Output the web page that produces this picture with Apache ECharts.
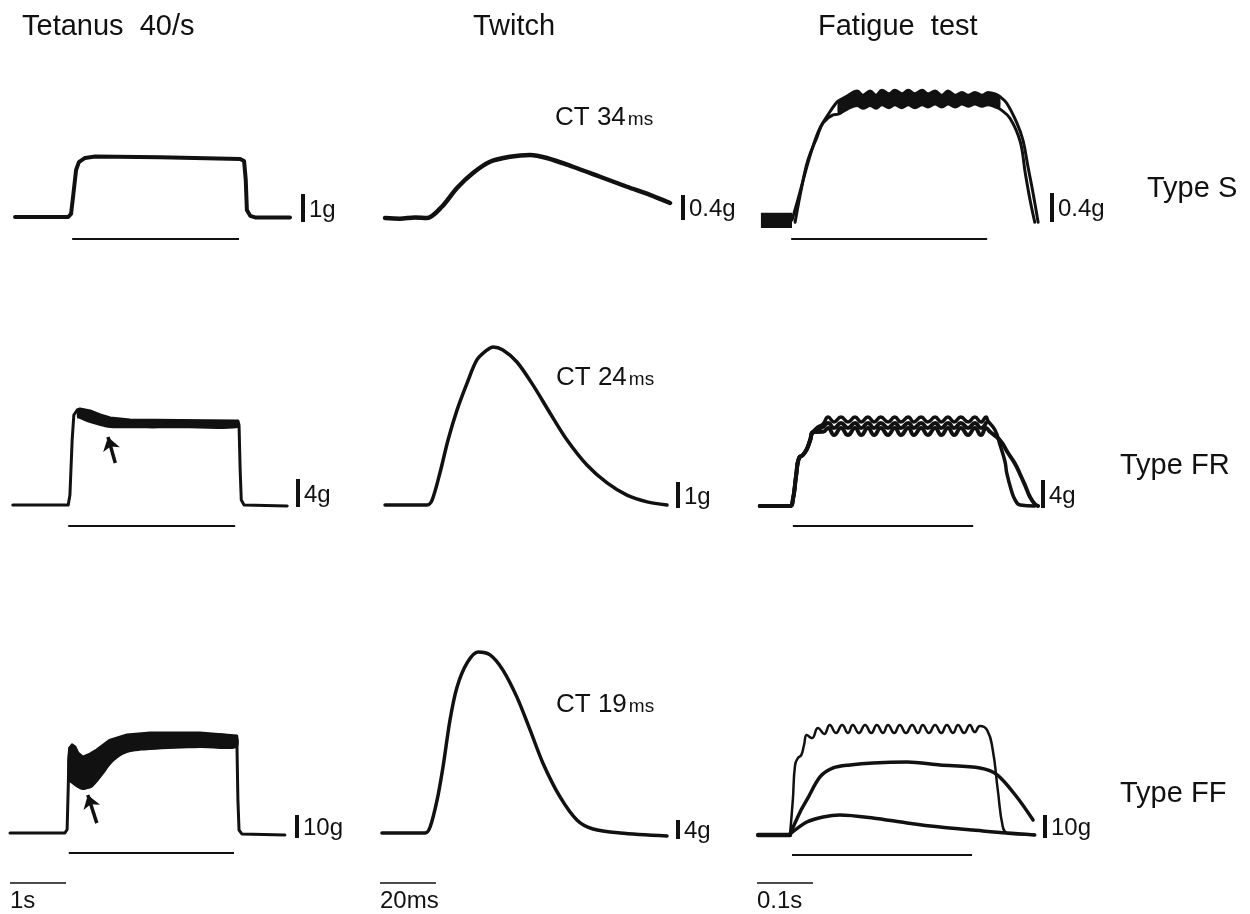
<!DOCTYPE html>
<html>
<head>
<meta charset="utf-8">
<title>Motor unit types</title>
<script src="https://cdn.jsdelivr.net/npm/echarts@6/dist/echarts.min.js"></script>
<style>
html, body { margin: 0; padding: 0; background: #fff; }
#main { width: 1250px; height: 914px; }
</style>
</head>
<body>
<div id="main"></div>
<script>
/*
 * three motor unit types (S, FR, FF)
 * columns: tetanus 40/s (time in s), twitch (time in ms), fatigue test (time in s)
 * force in g, 0 = resting baseline of each trace
 */

// ---- Tetanus 40/s ----
var tetS = [[0.09,0],[1.04,0],[1.09,0.11],[1.13,0.79],[1.18,1.68],[1.23,1.96],[1.34,2.11],[1.52,2.16],[2.68,2.13],[4.11,2.07],[4.18,2.0],[4.21,1.32],[4.23,0.25],[4.29,0.04],[4.39,-0.02],[5.0,-0.02]];
var tetFR = [[0.05,0],[1.04,0],[1.07,1.43],[1.11,9.29],[1.14,12.86],[1.2,13.57],[1.25,13.71],[1.43,13.43],[1.61,12.86],[1.79,12.43],[2.14,12.14],[3.04,12.07],[4.07,12.0],[4.09,11.4],[4.11,5],[4.13,0.71],[4.18,0],[4.95,-0.14]];
var tetFRTop = [[1.2,13.6],[1.25,13.86],[1.43,13.43],[1.61,12.86],[1.79,12.43],[2.14,12.14],[3.04,12.07],[4.07,12.0]];
var tetFRBottom = [[1.2,12.4],[1.25,12.3],[1.43,11.7],[1.61,11.3],[1.79,11.0],[2.14,10.95],[3.04,10.95],[4.07,11.0]];
var tetFF = [[0,0],[0.98,0],[1.02,1.5],[1.04,20],[1.05,31.7],[1.07,37],[1.11,38.3],[1.16,37.4],[1.21,34.8],[1.3,33],[1.43,34.3],[1.55,36.1],[1.79,40.4],[2.09,42.6],[2.5,43.5],[3.39,43.5],[4.05,42.2],[4.07,14.3],[4.09,1.3],[4.14,-0.4],[4.91,-0.9]];
var tetFFTop = [[1.04,37],[1.11,38.3],[1.16,37.4],[1.21,34.8],[1.3,33],[1.43,34.3],[1.55,36.1],[1.79,40.4],[2.09,42.6],[2.5,43.5],[3.39,43.5],[4.05,42.2]];
var tetFFBottom = [[1.04,23],[1.13,20.9],[1.29,18.7],[1.39,19.1],[1.48,20],[1.66,25.2],[1.84,30.9],[2.09,34.8],[2.5,36.1],[3.39,37],[4.05,37]];
var arrowFR = [[1.88,6.0],[1.75,9.71]];
var arrowFF = [[1.55,4.3],[1.39,16.5]];
var stimTet = [[1.11,4.09],[1.04,4.02],[1.05,4.0]];

// ---- Twitch ----
var twitchS = [[1.8,0],[7.1,-0.01],[12.5,0.01],[16.8,0],[22.1,0.18],[27.5,0.48],[33.2,0.72],[39.3,0.9],[46.4,0.98],[53.6,1.01],[59.6,0.96],[68.9,0.82],[78.6,0.66],[88.2,0.5],[96.4,0.37],[103.6,0.24]];
var twitchFR = [[1.8,0],[16.8,0],[18.6,0.19],[21.4,1.23],[24.3,2.5],[27.5,3.65],[31.1,4.69],[34.6,5.58],[38.2,5.96],[40.4,6.08],[43.9,5.96],[48.9,5.5],[54.6,4.62],[60.7,3.54],[66.8,2.5],[73.9,1.54],[81.1,0.85],[88.2,0.38],[95.4,0.12],[102.5,0]];
var twitchFF = [[0.7,0],[16.1,0],[17.9,1.26],[20.4,6.95],[22.5,13.9],[25,23.8],[27.5,30.7],[31.1,35.8],[35,38.1],[39.3,37.5],[43.9,34.3],[48.9,28.6],[53.6,21.7],[58.2,14.7],[64.3,7.6],[70.4,2.7],[76.1,0.84],[85.7,0],[102.5,-0.63]];
var contractionTimes = [34, 24, 19];

// ---- Fatigue test ----
var fatSBaseTop = [[0.007,0.1],[0.0625,0.1]];
var fatSBaseBottom = [[0.007,-0.11],[0.0625,-0.11]];
var fatSRiseA = [[0.0625,0],[0.073,0.28],[0.086,0.65],[0.098,0.97],[0.1125,1.27],[0.13,1.49],[0.14,1.6]];
var fatSRiseB = [[0.068,-0.03],[0.08,0.46],[0.091,0.83],[0.107,1.14],[0.118,1.34],[0.136,1.45]];
var fatSTop = [[0.145,1.64],[0.161,1.71],[0.179,1.78],[0.189,1.72],[0.202,1.78],[0.2125,1.72],[0.223,1.79],[0.236,1.74],[0.246,1.79],[0.259,1.74],[0.27,1.79],[0.282,1.74],[0.295,1.79],[0.305,1.74],[0.318,1.78],[0.33,1.72],[0.341,1.78],[0.354,1.72],[0.366,1.76],[0.377,1.72],[0.389,1.76],[0.402,1.72],[0.4125,1.76],[0.425,1.74],[0.434,1.70]];
var fatSBottom = [[0.145,1.46],[0.161,1.53],[0.179,1.58],[0.189,1.54],[0.202,1.58],[0.2125,1.54],[0.223,1.59],[0.236,1.55],[0.246,1.59],[0.259,1.55],[0.27,1.59],[0.282,1.55],[0.295,1.59],[0.305,1.56],[0.318,1.6],[0.33,1.56],[0.341,1.6],[0.354,1.56],[0.366,1.6],[0.377,1.57],[0.389,1.6],[0.402,1.57],[0.4125,1.59],[0.425,1.56],[0.434,1.53]];
var fatSFallA = [[0.446,1.61],[0.464,1.34],[0.475,1.1],[0.484,0.73],[0.493,0.37],[0.502,-0.03]];
var fatSFallB = [[0.452,1.4],[0.47,1.08],[0.479,0.65],[0.4875,0.28],[0.496,-0.03]];

var fatFRRise = [[0.005,0],[0.059,0],[0.064,0.86],[0.07,4.43],[0.075,6.86],[0.082,7.29],[0.089,8.14],[0.095,9.43],[0.1,10.57],[0.109,11.29],[0.118,11.71]];
var fatFRTop = [[0.127,12.71],[0.1375,12.0],[0.15,12.71],[0.1625,12.0],[0.175,12.71],[0.186,12.0],[0.198,12.71],[0.209,12.0],[0.221,12.71],[0.234,12.0],[0.246,12.71],[0.257,12.0],[0.27,12.71],[0.28,12.0],[0.293,12.71],[0.305,12.0],[0.318,12.71],[0.329,12.0],[0.341,12.71],[0.352,12.0],[0.364,12.71],[0.377,12.0],[0.389,12.71],[0.4,12.0],[0.409,12.71]];
var fatFRMid = [[0.118,11.3],[0.127,11.86],[0.1375,11.14],[0.15,11.86],[0.1625,11.14],[0.175,11.86],[0.186,11.14],[0.198,11.86],[0.209,11.14],[0.221,11.86],[0.234,11.14],[0.246,11.86],[0.257,11.14],[0.27,11.86],[0.28,11.14],[0.293,11.86],[0.305,11.14],[0.318,11.86],[0.329,11.14],[0.341,11.86],[0.352,11.14],[0.364,11.86],[0.377,11.14],[0.389,11.86],[0.4,11.14],[0.409,11.86]];
var fatFRBottom = [[0.118,10.6],[0.127,11.14],[0.1375,10.14],[0.15,11.14],[0.1625,10.14],[0.175,11.14],[0.186,10.14],[0.198,11.14],[0.209,10.14],[0.221,11.14],[0.234,10.14],[0.246,11.14],[0.257,10.14],[0.27,11.14],[0.28,10.14],[0.293,11.14],[0.305,10.14],[0.318,11.14],[0.329,10.14],[0.341,11.14],[0.352,10.14],[0.364,11.14],[0.377,10.14],[0.389,11.14],[0.4,10.14],[0.409,11.14]];
var fatFRFallA = [[0.4125,12.14],[0.425,10.86],[0.434,8.71],[0.443,6.29],[0.446,4.71],[0.454,2.29],[0.461,0.86],[0.47,0.14],[0.496,0]];
var fatFRFallB = [[0.416,10.6],[0.434,9.4],[0.448,7.6],[0.461,6.0],[0.47,4.5],[0.479,2.9],[0.4875,1.29],[0.496,0.29],[0.502,0]];

var fatFFBase = [[0.002,-0.43],[0.059,-0.43]];
var fatFFFresh = [[0.059,0],[0.064,14.8],[0.068,30],[0.073,33],[0.079,34.3],[0.084,38.7],[0.089,43],[0.098,41.7],[0.109,46.1],[0.12,43.5],[0.13,47.4],[0.141,43.9],[0.152,47.4],[0.1625,43.9],[0.171,47.4],[0.182,43.9],[0.193,47.4],[0.204,43.9],[0.214,47.4],[0.225,43.9],[0.234,47.4],[0.245,43.9],[0.255,47.4],[0.266,43.9],[0.277,47.4],[0.2875,43.9],[0.296,47.4],[0.307,43.9],[0.318,47.4],[0.329,43.9],[0.339,47.4],[0.35,43.9],[0.359,47.4],[0.37,43.9],[0.38,47.4],[0.389,44.3],[0.398,47.0],[0.411,45.2],[0.421,36.5],[0.43,19.1],[0.439,3.0],[0.446,0.4],[0.455,0],[0.496,-0.4]];
var fatFFMid = [[0.059,0],[0.077,9.6],[0.089,14.8],[0.1125,24.8],[0.136,28.7],[0.166,30],[0.207,30.9],[0.268,31.3],[0.327,30],[0.398,28.7],[0.429,25.7],[0.464,16.1],[0.493,6.1]];
var fatFFLow = [[0.059,0],[0.089,5.2],[0.118,7.4],[0.148,8.3],[0.207,7],[0.268,4.8],[0.327,3.0],[0.386,1.7],[0.446,0.4],[0.496,-0.4]];
var stimFat = [[0.061,0.411],[0.064,0.386],[0.0625,0.384]];

// calibration bars: force (g) per row/column, time per column
var forceBars = [[1, 0.4, 0.4], [4, 1, 4], [10, 4, 10]];
var timeBars = [1, 20, 0.1];
var timeBarLabels = ['1s', '20ms', '0.1s'];
var colTitles = ['Tetanus  40/s', 'Twitch', 'Fatigue  test'];
var unitTypes = ['Type S', 'Type FR', 'Type FF'];

// ---- layout (pixels) ----
var ink = '#111';
var font = "'Liberation Sans', Arial, sans-serif";
var W = 330;
var colX0 = [10, 380, 757];
var colKx = [56, 2.8, 560];
var rowTop = [60, 300, 600];
var rowH = [210, 270, 300];
var basePx = [[217, 218, 220], [505, 505, 506], [833, 833, 834]];
var kyPx = [[28, 62.5, 72.5], [7, 26, 7], [2.3, 4.75, 2.3]];
var barX = [[303, 683, 1052], [298, 678, 1043], [297, 678, 1045]];
var barBottom = [[222, 220, 222], [507, 508, 508], [838, 839, 838]];
var stimPx = [[239, 239], [526, 526], [853, 855]];
var timeBarY = 883;
var titleX = [22, 473, 818];
var typeX = [1147, 1120, 1120];
var typeY = [189, 466, 794];
var ctX = [555, 556, 556];
var ctY = [118, 378, 705];

var grids = [], xAxes = [], yAxes = [], series = [], graphics = [];

for (var r = 0; r < 3; r++) {
    for (var c = 0; c < 3; c++) {
        var i = r * 3 + c;
        grids.push({left: colX0[c], top: rowTop[r], width: W, height: rowH[r]});
        xAxes.push({type: 'value', gridIndex: i, min: 0, max: W / colKx[c], show: false});
        yAxes.push({
            type: 'value', gridIndex: i, show: false,
            min: (basePx[r][c] - rowTop[r] - rowH[r]) / kyPx[r][c],
            max: (basePx[r][c] - rowTop[r]) / kyPx[r][c]
        });
    }
}

function gi(r, c) { return r * 3 + c; }
function yAt(r, c, px) { return (basePx[r][c] - px) / kyPx[r][c]; }
function xAt(c, px) { return (px - colX0[c]) / colKx[c]; }

function trace(i, data, width, smooth) {
    series.push({
        type: 'line', xAxisIndex: i, yAxisIndex: i, data: data,
        showSymbol: false, symbol: 'none', smooth: smooth || 0,
        lineStyle: {color: ink, width: width, cap: 'round', join: 'round'},
        clip: false, silent: true, animation: false, z: 3
    });
}

function band(i, upper, lower, smooth) {
    var pts = upper.concat(lower.slice().reverse());
    series.push({
        type: 'custom', xAxisIndex: i, yAxisIndex: i, data: pts, silent: true, animation: false, z: 2,
        renderItem: function (params, api) {
            if (params.dataIndex !== 0) return null;
            return {
                type: 'polygon',
                shape: {points: pts.map(function (p) { return api.coord(p); }), smooth: smooth || 0},
                style: {fill: ink}
            };
        }
    });
}

function seg(i, a, b, width, arrow) {
    series.push({
        type: 'lines', coordinateSystem: 'cartesian2d', xAxisIndex: i, yAxisIndex: i,
        silent: true, animation: false, z: 4,
        symbol: arrow ? ['none', 'arrow'] : ['none', 'none'],
        symbolSize: arrow ? 13 : 0,
        lineStyle: {color: ink, width: width, opacity: 1},
        data: [{coords: [a, b]}]
    });
}

function text(x, y, str, size, extra) {
    var el = {
        type: 'text', x: x, y: y, silent: true,
        style: {text: str, fontSize: size, fontFamily: font, fill: ink, align: 'left', verticalAlign: 'middle'}
    };
    if (extra) el.style.rich = extra;
    graphics.push(el);
}

// tetanus column
trace(gi(0, 0), tetS, 4);
trace(gi(1, 0), tetFR, 3);
band(gi(1, 0), tetFRTop, tetFRBottom, 0.3);
trace(gi(2, 0), tetFF, 3);
band(gi(2, 0), tetFFTop, tetFFBottom, 0.3);
seg(gi(1, 0), arrowFR[0], arrowFR[1], 3.5, true);
seg(gi(2, 0), arrowFF[0], arrowFF[1], 3.5, true);

// twitch column
trace(gi(0, 1), twitchS, 4.5, 0.3);
trace(gi(1, 1), twitchFR, 3.5, 0.3);
trace(gi(2, 1), twitchFF, 3.5, 0.3);

// fatigue column
band(gi(0, 2), fatSBaseTop, fatSBaseBottom);
band(gi(0, 2), fatSTop, fatSBottom, 0.2);
trace(gi(0, 2), fatSRiseA.concat(fatSTop, fatSFallA), 3, 0.4);
trace(gi(0, 2), fatSRiseB.concat(fatSBottom, fatSFallB), 3, 0.4);
trace(gi(1, 2), fatFRRise.concat(fatFRTop, fatFRFallA), 3.5, 0.5);
trace(gi(1, 2), fatFRRise.slice(0, 9).concat(fatFRMid), 4, 0.5);
trace(gi(1, 2), fatFRRise.slice(0, 9).concat(fatFRBottom, fatFRFallB), 4, 0.5);
trace(gi(2, 2), fatFFBase, 4.5);
trace(gi(2, 2), fatFFFresh, 2.5, 0.5);
trace(gi(2, 2), fatFFMid, 3.5, 0.3);
trace(gi(2, 2), fatFFLow, 3.5, 0.3);

// stimulus bars under tetanus and fatigue traces
for (var r = 0; r < 3; r++) {
    var y0 = yAt(r, 0, stimPx[r][0]);
    seg(gi(r, 0), [stimTet[r][0], y0], [stimTet[r][1], y0], 2);
    var y2 = yAt(r, 2, stimPx[r][1]);
    seg(gi(r, 2), [stimFat[r][0], y2], [stimFat[r][1], y2], 2);
}

// force calibration bars with labels
for (var r = 0; r < 3; r++) {
    for (var c = 0; c < 3; c++) {
        var bx = xAt(c, barX[r][c]);
        var by = yAt(r, c, barBottom[r][c]);
        var v = forceBars[r][c];
        seg(gi(r, c), [bx, by], [bx, by + v], 4);
        text(barX[r][c] + 6, barBottom[r][c] - v * kyPx[r][c] / 2 + 2, v + 'g', 24);
    }
}

// time calibration bars under the bottom row
for (var c = 0; c < 3; c++) {
    var ty = yAt(2, c, timeBarY);
    seg(gi(2, c), [0, ty], [timeBars[c], ty], 1.5);
    text(colX0[c], timeBarY + 18, timeBarLabels[c], 24);
}

// column titles, unit type labels, contraction times
for (var c = 0; c < 3; c++) text(titleX[c], 27, colTitles[c], 29);
for (var r = 0; r < 3; r++) text(typeX[r], typeY[r], unitTypes[r], 29);
for (var r = 0; r < 3; r++) {
    text(ctX[r], ctY[r], '{a|CT ' + contractionTimes[r] + '}{b|ms}', 26, {
        a: {fontSize: 26, fontFamily: font, fill: ink},
        b: {fontSize: 19, fontFamily: font, fill: ink, padding: [4, 0, 0, 2]}
    });
}

var myChart = echarts.init(document.getElementById('main'), null, {renderer: 'canvas'});
var option = {
    backgroundColor: '#fff',
    animation: false,
    grid: grids,
    xAxis: xAxes,
    yAxis: yAxes,
    series: series,
    graphic: graphics
};
myChart.setOption(option, true);
</script>
</body>
</html>
